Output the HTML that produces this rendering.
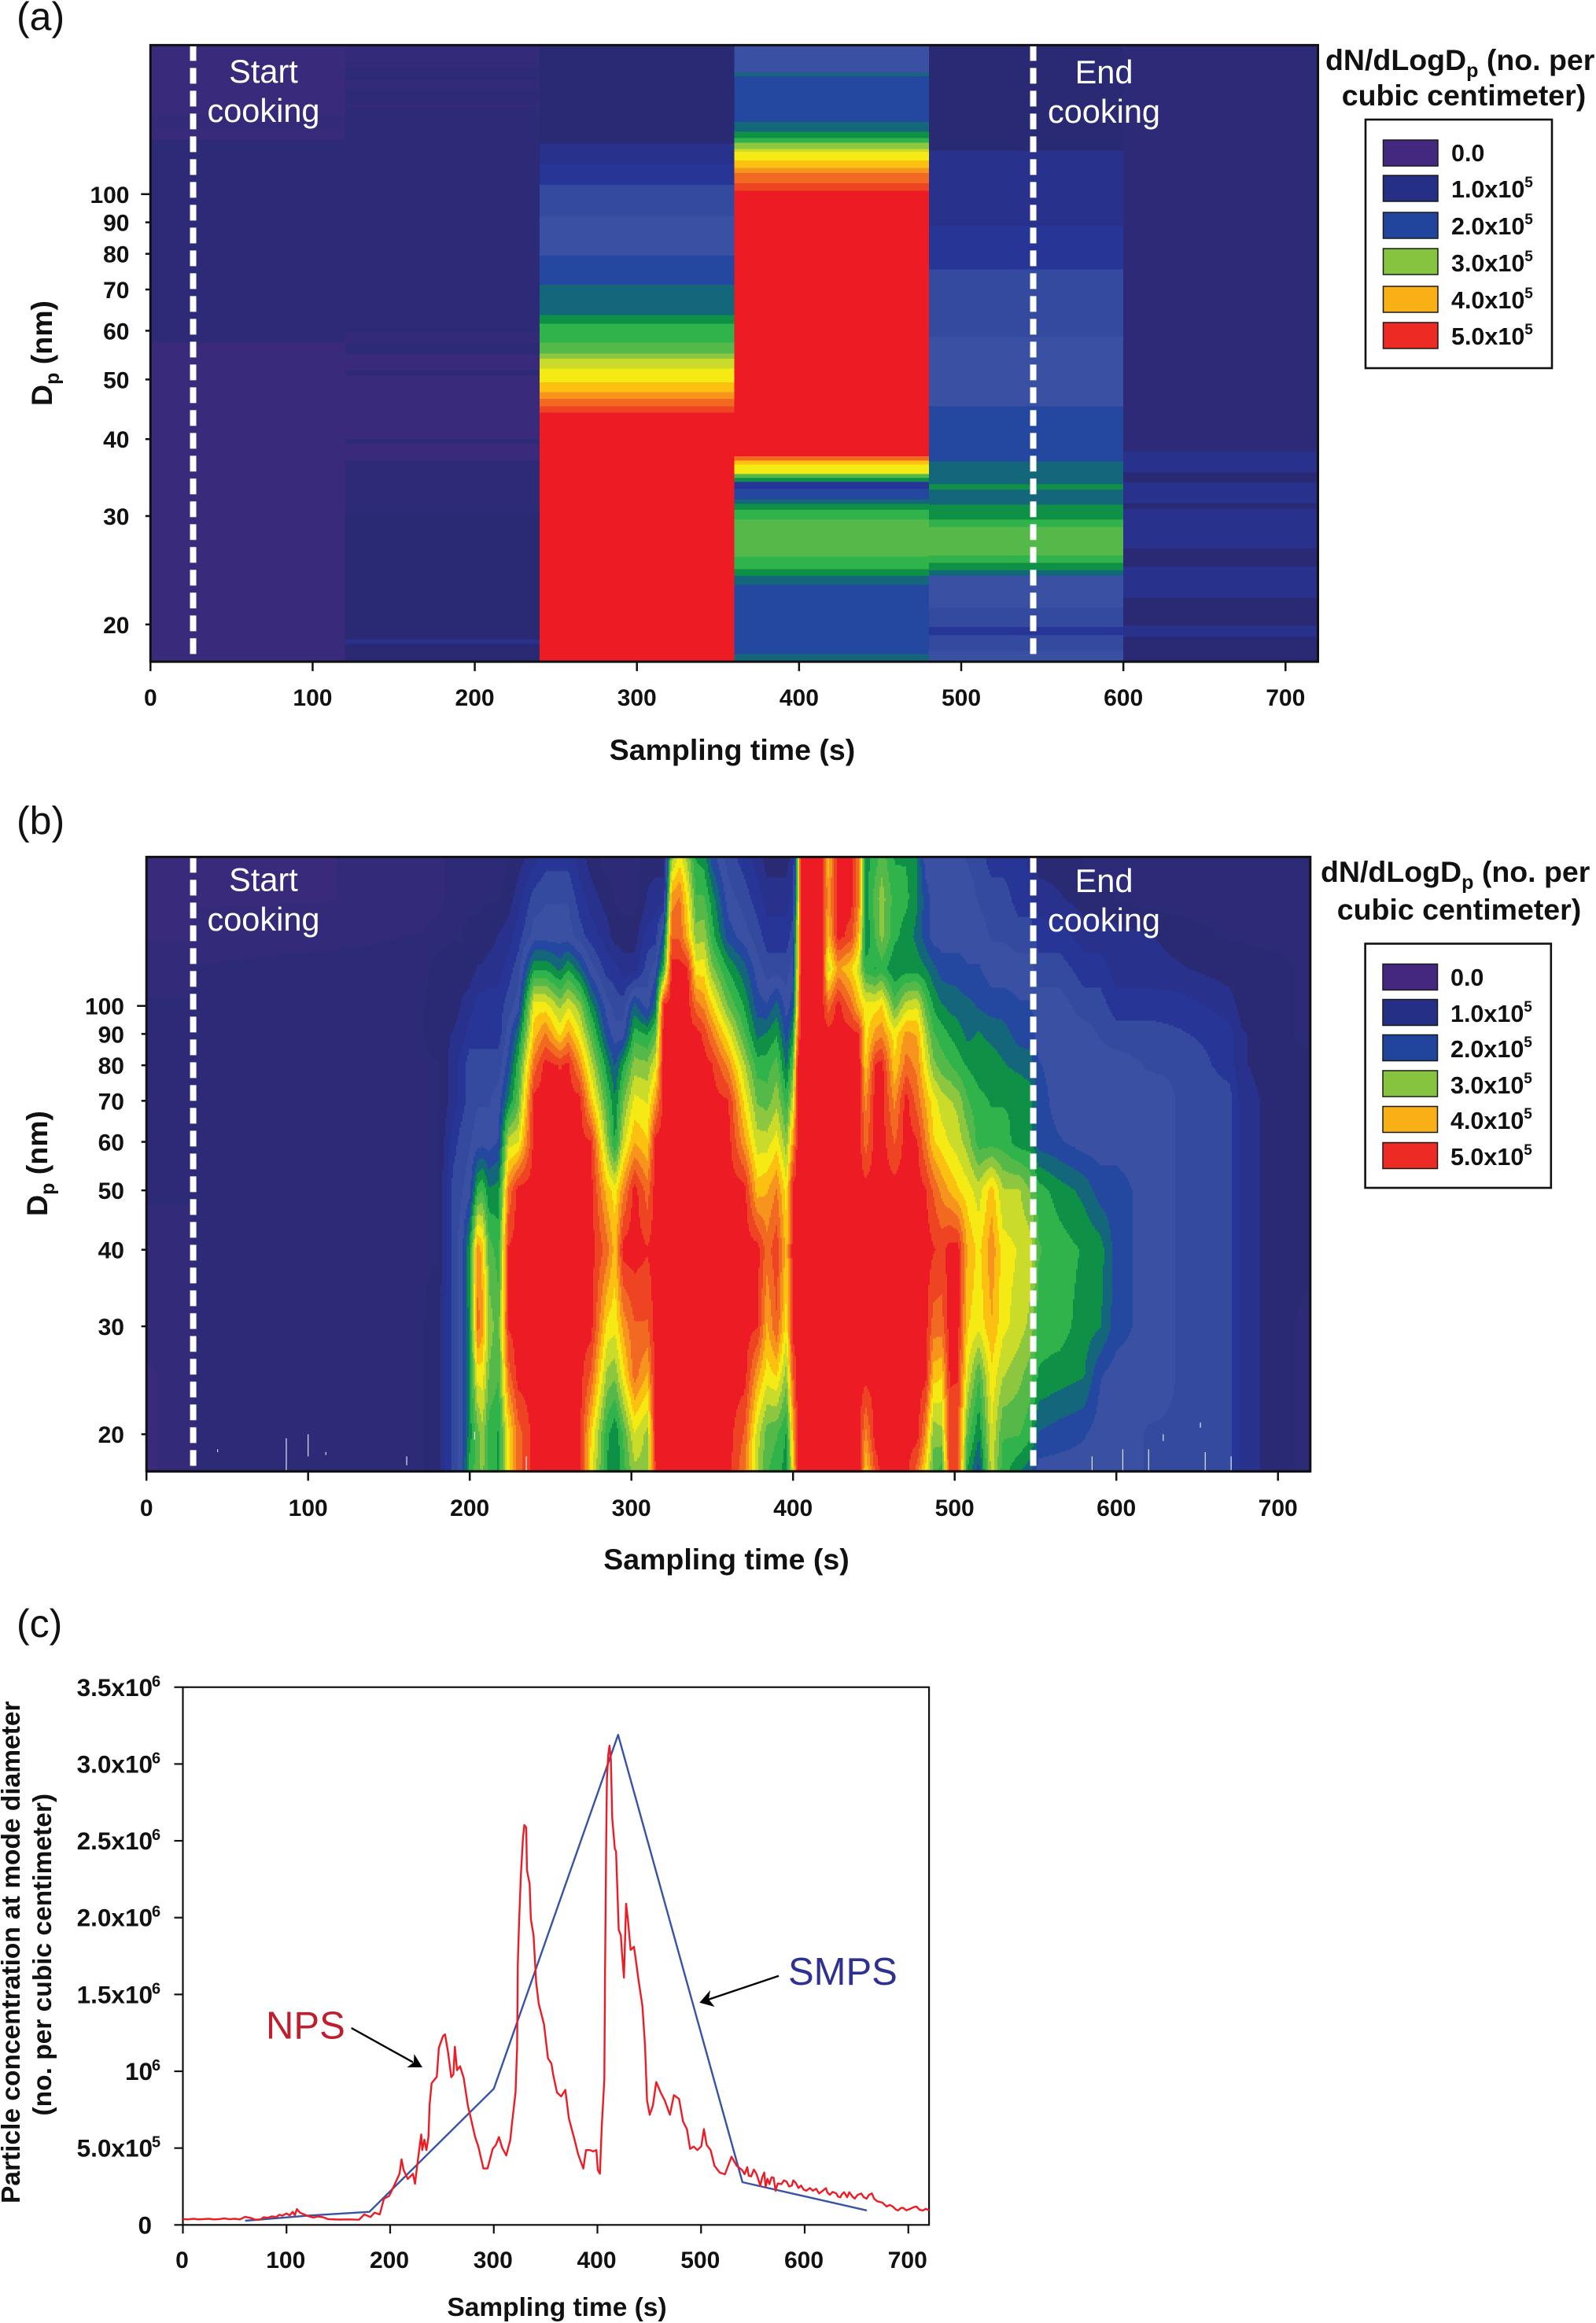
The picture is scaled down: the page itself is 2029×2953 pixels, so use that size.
<!DOCTYPE html>
<html lang="en">
<head>
<meta charset="utf-8">
<title>Particle size distribution during cooking</title>
<style>
html,body{margin:0;padding:0;background:#fff;}
body{width:2029px;height:2953px;overflow:hidden;}
svg{display:block;}
text{font-family:"Liberation Sans",Arial,sans-serif;fill:#111;}
.b{font-weight:bold;}
.cook{fill:#fff;font-size:41.5px;text-anchor:middle;}
.panel{font-size:50px;}
.axis-title{font-size:37.5px;font-weight:bold;}
.leg-title{font-size:37.5px;font-weight:bold;}
.leg{font-size:30.5px;font-weight:bold;}
.frame{fill:none;stroke:#111;stroke-width:3;}
.legbox{fill:#fff;stroke:#111;stroke-width:2.6;}
.sw{stroke:#1a1a1a;stroke-width:1.5;}
.dash{stroke:#fff;stroke-width:8;stroke-dasharray:20 9;fill:none;}
</style>
</head>
<body>
<svg id="fig" xmlns="http://www.w3.org/2000/svg" width="2029" height="2953" viewBox="0 0 2029 2953">
  <!-- PANEL A -->
  <g id="a-heat" shape-rendering="crispEdges"></g>
  <line id="a-start" class="dash"/>
  <line id="a-end" class="dash"/>
  <g id="a-axes"></g>
  <text class="panel" x="21" y="38">(a)</text>
  <text class="cook" x="335" y="105">Start</text>
  <text class="cook" x="335" y="155">cooking</text>
  <text class="cook" x="1403.5" y="106">End</text>
  <text class="cook" x="1403.5" y="156">cooking</text>
  <text class="axis-title" x="931" y="966" text-anchor="middle">Sampling time (s)</text>
  <text class="axis-title" transform="translate(66,516) rotate(-90)">D<tspan font-size="25" dy="9">p</tspan><tspan dy="-9"> (nm)</tspan></text>
  <g>
    <text class="leg-title" x="1685" y="89">dN/dLogD<tspan font-size="25" dy="9">p</tspan><tspan dy="-9"> (no. per</tspan></text>
    <text class="leg-title" x="1861" y="134" text-anchor="middle">cubic centimeter)</text>
    <rect class="legbox" x="1736" y="152" width="237" height="316"/>
    <rect class="sw" x="1758.5" y="178" width="69.5" height="33" fill="#44277f"/>
    <rect class="sw" x="1758.5" y="223" width="69.5" height="33" fill="#252f85"/>
    <rect class="sw" x="1758.5" y="270" width="69.5" height="33" fill="#21449c"/>
    <rect class="sw" x="1758.5" y="316" width="69.5" height="33" fill="#86c440"/>
    <rect class="sw" x="1758.5" y="364" width="69.5" height="33" fill="#f9b016"/>
    <rect class="sw" x="1758.5" y="410" width="69.5" height="33" fill="#ee2a24"/>
    <text class="leg" x="1845" y="205">0.0</text>
    <text class="leg" x="1845" y="251">1.0x10<tspan font-size="19" dy="-13">5</tspan></text>
    <text class="leg" x="1845" y="298">2.0x10<tspan font-size="19" dy="-13">5</tspan></text>
    <text class="leg" x="1845" y="345">3.0x10<tspan font-size="19" dy="-13">5</tspan></text>
    <text class="leg" x="1845" y="392">4.0x10<tspan font-size="19" dy="-13">5</tspan></text>
    <text class="leg" x="1845" y="438">5.0x10<tspan font-size="19" dy="-13">5</tspan></text>
  </g>

  <!-- PANEL B -->
  <g id="b-heat" shape-rendering="crispEdges"></g>
  <g id="b-specks"></g>
  <line id="b-start" class="dash"/>
  <line id="b-end" class="dash"/>
  <g id="b-axes"></g>
  <text class="panel" x="21" y="1060.6">(b)</text>
  <text class="cook" x="335" y="1132.6">Start</text>
  <text class="cook" x="335" y="1183">cooking</text>
  <text class="cook" x="1403.5" y="1134">End</text>
  <text class="cook" x="1403.5" y="1184">cooking</text>
  <text class="axis-title" x="923.5" y="1995" text-anchor="middle">Sampling time (s)</text>
  <text class="axis-title" transform="translate(60,1546) rotate(-90)">D<tspan font-size="25" dy="9">p</tspan><tspan dy="-9"> (nm)</tspan></text>
  <g>
    <text class="leg-title" x="1679" y="1121">dN/dLogD<tspan font-size="25" dy="9">p</tspan><tspan dy="-9"> (no. per</tspan></text>
    <text class="leg-title" x="1855" y="1169" text-anchor="middle">cubic centimeter)</text>
    <rect class="legbox" x="1735.6" y="1199.6" width="236.2" height="310.4"/>
    <rect class="sw" x="1758" y="1225.5" width="69.5" height="33" fill="#44277f"/>
    <rect class="sw" x="1758" y="1270.5" width="69.5" height="33" fill="#252f85"/>
    <rect class="sw" x="1758" y="1315.5" width="69.5" height="33" fill="#21449c"/>
    <rect class="sw" x="1758" y="1361" width="69.5" height="33" fill="#86c440"/>
    <rect class="sw" x="1758" y="1406.5" width="69.5" height="33" fill="#f9b016"/>
    <rect class="sw" x="1758" y="1452.5" width="69.5" height="33" fill="#ee2a24"/>
    <text class="leg" x="1844" y="1253">0.0</text>
    <text class="leg" x="1844" y="1299">1.0x10<tspan font-size="19" dy="-13">5</tspan></text>
    <text class="leg" x="1844" y="1344">2.0x10<tspan font-size="19" dy="-13">5</tspan></text>
    <text class="leg" x="1844" y="1390">3.0x10<tspan font-size="19" dy="-13">5</tspan></text>
    <text class="leg" x="1844" y="1435">4.0x10<tspan font-size="19" dy="-13">5</tspan></text>
    <text class="leg" x="1844" y="1481">5.0x10<tspan font-size="19" dy="-13">5</tspan></text>
  </g>

  <!-- PANEL C -->
  <text class="panel" x="21" y="2081">(c)</text>
  <g id="c-axes"></g>
  <polyline id="c-smps" fill="none" stroke="#3953a4" stroke-width="2.4" stroke-linejoin="round"/>
  <polyline id="c-nps" fill="none" stroke="#ed1c24" stroke-width="2.4" stroke-linejoin="round"/>
  <text x="338" y="2591.7" font-size="49" style="fill:#be1e2d">NPS</text>
  <text x="1002" y="2523" font-size="49" style="fill:#2e3192">SMPS</text>
  <g>
    <line x1="446.7" y1="2578" x2="525" y2="2621.5" stroke="#000" stroke-width="2.4"/>
    <polygon points="537,2628 517.5,2628 526,2621.5 526.5,2611" fill="#000"/>
  </g>
  <g>
    <line x1="990" y1="2511.7" x2="900" y2="2542" stroke="#000" stroke-width="2.4"/>
    <polygon points="889.3,2545.7 903,2530 901,2541.5 908.5,2551" fill="#000"/>
  </g>
  <text x="708" y="2944" font-size="33.5" class="b" text-anchor="middle">Sampling time (s)</text>
  <text class="b" font-size="33.5" transform="translate(25,2801) rotate(-90)">Particle concentration at mode diameter</text>
  <text class="b" font-size="33.5" transform="translate(65,2689.5) rotate(-90)">(no. per cubic centimeter)</text>
</svg>

<script>
// ---------- shared colour scale: one colour per 0.25x10^5 level ----------
const levelColors = ["#3a2a7b","#332a7a","#2d2a78","#2a2a74","#28318b","#273696","#344a9f","#3a50a2","#24479f","#14667a","#0e9147","#2fb34a","#54b948","#8dc63f","#cbdb2a","#f5ea14","#fcc010","#f7941d","#f26a21","#ef4423","#ed1c24"];

// ---------- panel (a): SMPS scans, one column per 120 s scan ----------
const smpsScanStarts = [0,120,240,360,480,600,720];
const scan1Edges = [174.6,134.8,127.4,122.7,57.4,17.4];
const scan1Values = [0.1,0.25,0.1,0.5,0.1];
const scan2Edges = [174.6,160.5,153.1,148.0,140.7,138.1,59.7,57.4,54.9,51.8,50.8,40.0,39.3,36.9,30.5,18.9,18.6,17.4];
const scan2Values = [0.25,0.5,0.25,0.5,0.25,0.5,0.25,0.5,0.1,0.5,0.1,0.5,0.1,0.5,0.75,1,0.75];
const scan3Edges = [174.6,120.6,111.7,103.6,92.2,79.4,71.2,63.6,61.6,57.4,55.1,54.0,52.1,49.5,48.6,47.7,46.5,45.2,44.2,17.4];
const scan3Values = [0.75,1,1.25,1.5,1.75,2,2.25,2.5,2.75,3,3.25,3.5,3.75,4,4,4.25,4.5,4.75,5];
const scan4Edges = [174.6,157.5,155.4,131.0,126.2,123.4,121.1,118.4,117.1,113.4,110.3,108.2,104.2,101.3,37.5,36.9,36.4,35.1,34.6,34.1,33.2,31.9,31.4,30.7,29.6,25.8,24.6,24.0,23.2,17.9,17.4];
const scan4Values = [1.75,2.25,2,2.25,2.5,2.75,3.25,3.5,3.75,4,4.25,4.5,4.75,5,4.5,4,3.75,3,2.5,1.25,2,2.25,2.5,2.75,3,2.75,2.5,2.25,2,2.25];
const scan5Edges = [174.6,117.7,88.9,75.5,58.6,45.2,36.8,33.8,33.1,31.3,29.6,28.8,25.9,25.2,24.5,24.0,21.3,19.8,19.2,18.1,17.4];
const scan5Values = [0.75,1,1.25,1.5,1.75,2,2.25,2.5,2.25,2.5,2.75,3,2.75,2.5,2.25,1.75,1.5,1.25,1.5,1.75];
const scan6Edges = [174.6,38.2,35.3,34.0,31.5,30.8,26.6,24.8,22.1,19.9,19.1,17.4];
const scan6Values = [0.5,1,0.75,1,0.75,1,0.75,1,0.75,1,0.75];
const scanEdges = [scan1Edges,scan2Edges,scan3Edges,scan4Edges,scan5Edges,scan6Edges];
const scanValues = [scan1Values,scan2Values,scan3Values,scan4Values,scan5Values,scan6Values];

// ---------- shared axis data ----------
const timeTicks = [0,100,200,300,400,500,600,700];
const dpTicks = [100,90,80,70,60,50,40,30,20];
const cookingStartA = 26.3;
const cookingEndA = 544.4;
const cookingStartB = 28.9;
const cookingEndB = 548.6;

// ---------- panel (b): NPS contour grid, values in 10^5 per cm3 ----------
const npsDiameters = [175,150,130,115,100,90,80,70,60,50,40,30,25,20,17.4];
const npsTimes = [0,28,32,100,170,180,190,195,200,205,208,212,218,224,230,240,247,256,261,268,275,285,290,295,302,310,315,320,325,330,335,340,345,350,360,370,378,384,390,396,400,403,405,418,422,428,436,441,445,451,455,463,470,477,482,487,492,497,502,508,515,523,530,540,547,552,565,580,590,600,620,640,670,678,700,720];
const npsGrid = [
[.1,.1,.1,.3,.4,.4,.4,.4,.4,.4,.3,.2,.1,.1,.1],
[.1,.1,.1,.3,.4,.4,.4,.4,.4,.4,.3,.25,.2,.2,.2],
[.1,.1,.2,.4,.5,.5,.5,.5,.5,.5,.5,.5,.5,.5,.5],
[.1,.1,.25,.5,.5,.5,.5,.5,.5,.5,.5,.5,.5,.5,.5],
[.2,.2,.4,.5,.6,.6,.6,.6,.6,.6,.6,.6,.6,.6,.6],
[.25,.25,.5,.75,.75,.75,.6,.6,.6,.6,.6,.75,.75,.75,.75],
[.5,.5,.6,.75,.75,.9,1,1,1.25,1.5,1.5,1.5,1.5,1.5,1.5],
[.5,.5,.6,.75,.9,1,1.25,1.25,1.5,1.6,1.75,1.75,1.75,1.75,1.75],
[.5,.5,.75,.75,1,1.25,1.5,1.5,1.6,1.75,2.6,2.5,2.5,2.5,2.75],
[.5,.5,.75,.9,1.25,1.25,1.5,1.6,1.75,2.75,4.3,4.5,3.75,3,3],
[.5,.6,.75,.9,1.25,1.25,1.5,1.6,1.75,2.9,4,4.2,3.75,3.3,3.2],
[.5,.6,.75,1,1.25,1.25,1.5,1.6,1.75,2.4,3,3.25,3.1,2.75,2.75],
[.5,.6,.9,1,1.25,1.25,1.5,1.75,1.9,2.5,2.75,3,2.9,2.6,2.6],
[.6,.75,1,1.25,1.5,1.75,2,2.4,3.5,4.4,4.9,4.9,4.5,3.75,3.75],
[.75,1,1.25,1.5,1.75,2.3,2.75,3,3.6,5,5,5,5,4.5,4.5],
[1,1.5,1.75,2.6,3.75,4,4.5,5,5,5,5,5,5,5,5],
[1.25,1.6,1.75,2.6,3.75,4.4,5,5,5,5,5,5,5,5,5],
[1.25,1.6,1.75,2.3,3.3,3.8,4.85,5,5,5,5,5,5,5,5],
[1.25,1.6,1.75,2.6,3.6,4.2,4.95,5,5,5,5,5,5,5,5],
[1,1.25,1.5,2.25,3.25,3.7,4.3,5,5,5,5,5,5,5,5],
[.75,1,1.25,1.75,2.5,3,3.5,4,4.9,5,5,5,4.6,3.9,3.8],
[.5,.75,1,1.25,1.75,2,2.5,2.9,3.25,4,4.5,3.8,3.3,2.7,2.6],
[.5,.6,.75,1.25,1.5,1.75,2.1,2.4,2.6,3.75,4,3.7,3.2,2.4,2.4],
[.5,.5,.75,1,1.5,1.75,2.6,3.1,3.5,4.3,5,4.2,3.75,2.9,2.75],
[.5,.5,.75,1,2.2,2.75,3.25,3.7,4.1,5,5,4.6,4.5,3.6,3.3],
[.75,.9,1.25,1.5,1.75,2.6,3.2,3.6,3.9,4.5,4.9,4.6,4.1,3.3,3.3],
[.75,1,1.25,1.75,2.3,3,3.6,4.2,5,5,5,5,5,5,4.9],
[.75,1,2.1,2.75,5,5,5,5,5,5,5,5,5,5,5],
[3.25,4.25,4.6,5,5,5,5,5,5,5,5,5,5,5,5],
[3.75,4.4,4.6,5,5,5,5,5,5,5,5,5,5,5,5],
[3.25,3.75,4,4.9,5,5,5,5,5,5,5,5,5,5,5],
[2.6,2.9,3.25,3.75,4.5,5,5,5,5,5,5,5,5,5,5],
[2.5,2.9,3.3,3.75,4.3,4.8,5,5,5,5,5,5,5,5,5],
[2,2.5,2.75,3.2,3.9,4.4,4.9,5,5,5,5,5,5,5,5],
[1.5,1.75,2,2.6,3.1,3.7,4.3,4.9,5,5,5,5,5,5,5],
[1.25,1.5,1.75,2.2,2.6,2.9,3.4,3.8,4.2,5,5,5,5,4.6,4.4],
[1,1.25,1.5,1.75,2,2.3,2.75,3.1,3.5,4,5,4.9,4.2,3.5,3.4],
[.75,1,1.25,1.5,1.9,2.4,2.75,3,3.5,4.1,4.5,4.1,3.75,3,2.9],
[.75,1,1.25,1.5,2.25,2.6,3,3.3,3.75,4.4,4.8,4.6,3.9,2.9,2.75],
[.75,1,1.25,1.5,1.75,2,2.3,2.75,3.2,3.75,4,3.75,3.25,2.6,2.5],
[1,1.25,1.5,1.75,2,2.5,3,3.5,4.2,5,5,5,4.6,4,3.75],
[3,3.2,3.75,3.75,4,4.5,5,5,5,5,5,5,5,5,5],
[5,5,5,5,5,5,5,5,5,5,5,5,5,5,5],
[5,5,5,5,5,5,5,5,5,5,5,5,5,5,5],
[4,4.2,4,3.5,4.5,5,5,5,5,5,5,5,5,5,5],
[5,5,5,4.2,5,5,5,5,5,5,5,5,5,5,5],
[5,5,4.75,3.9,4.5,5,5,5,5,5,5,5,5,5,5],
[4.4,4.4,4,3.5,4,4.9,5,5,5,5,5,5,5,5,5],
[2.5,2.5,2.4,2.75,3.75,3.75,3.9,4.3,4.5,5,5,5,5,4.3,3.9],
[2.75,3,2.9,2.6,3.75,4.2,4.9,5,5,5,5,5,5,5,4.7],
[3,3.25,3.2,2.75,3.9,4.3,5,5,5,5,5,5,5,5,5],
[2.6,2.75,2.7,2.4,3,3.75,3.9,4.3,4.6,5,5,5,5,5,5],
[2.6,2.7,2.5,2.5,3.5,4.2,4.5,5,5,5,5,5,5,5,5],
[2.4,2.4,2.3,2.5,3.6,4.1,4.3,4.5,4.9,5,5,5,5,5,4.5],
[1.75,2,2,2.4,3,3.4,3.7,4.1,4.4,4.9,5,5,5,4.3,3.8],
[1.75,1.75,1.75,2.2,2.6,2.9,3.2,3.75,3.9,4.6,4.9,4.5,4,3.2,3],
[1.75,1.75,1.75,2,2.4,2.75,3,3.5,3.75,4.3,4.8,4.5,3.9,3.3,2.75],
[1.75,1.75,1.75,2,2.3,2.6,2.9,3.4,3.6,4.1,5,5,4.9,4.8,4.8],
[1.75,1.75,1.75,2,2.25,2.5,2.75,3.3,3.5,3.9,5,5,4.9,4.7,4.8],
[1.6,1.75,1.75,1.9,2.2,2.3,2.6,2.9,3.25,3.75,4.1,3.9,3.6,3,2.6],
[1.5,1.6,1.75,1.9,2.1,2.4,2.5,2.7,2.75,3.5,3.8,3.7,2.9,2.4,2],
[1.25,1.5,1.6,1.75,2,2.3,2.5,2.6,2.75,4,4.3,4.1,3.8,3.6,3.5],
[1.25,1.5,1.6,1.75,2,2.25,2.4,2.6,2.75,3.4,3.75,3.7,3.4,2.9,2.75],
[1.25,1.25,1.5,1.75,1.9,2,2.3,2.6,2.5,3.4,3.6,3.5,3.2,2.9,2.4],
[1,1.25,1.5,1.75,1.9,2,2.25,2.5,2.5,3.1,3.5,3.3,3,2.7,2.2],
[.75,1,1.25,1.5,1.75,1.75,1.9,2,2,2.75,2.9,2.75,2.6,2.1,1.75],
[.75,.9,1.25,1.5,1.75,1.75,1.75,1.75,1.9,2.5,2.75,2.75,2.5,2,1.75],
[.6,.75,1,1.25,1.5,1.75,1.75,1.75,1.75,2.3,2.6,2.5,2.4,1.9,1.75],
[.5,.75,1,1.25,1.5,1.6,1.75,1.75,1.75,2,2.5,2.4,1.9,1.75,1.75],
[.5,.6,1,1,1.25,1.5,1.75,1.75,1.75,2,2,2,1.75,1.75,1.75],
[.5,.5,.9,1,1.25,1.5,1.6,1.75,1.75,1.75,1.75,1.75,1.75,1.6,1.6],
[.5,.5,.75,.9,1.25,1.4,1.6,1.6,1.6,1.6,1.6,1.6,1.6,1.6,1.6],
[.5,.5,.6,.75,1,1.25,1.25,1.5,1.5,1.5,1.5,1.5,1.5,1.5,1.5],
[.5,.5,.6,.75,.75,.9,.9,1,1,1,1,1,1,1,1],
[.5,.5,.5,.75,.75,.75,.75,.75,.75,.75,.75,.75,.75,.75,.75],
[.5,.5,.5,.5,.5,.5,.75,.75,.75,.75,.75,.5,.5,.5,.5]
];
const speckTimes = [44,86.5,100,111,161,203,235,585,604,620,629,652,671,655];
const speckDpHigh = [18.9,19.7,20,18.7,18.4,20.2,18.4,18.4,18.9,18.9,20,20.9,18.4,18.7];
const speckDpLow = [18.7,17.4,18.4,18.5,17.8,19.6,17.4,17.4,17.4,17.4,19.5,20.5,17.4,17.4];

// ---------- panel (c): mode concentration series, values in 10^5 per cm3 ----------
const smpsTimes = [60,120,180,300,420,540,660];
const smpsConc = [0.27,0.6,0.85,8.87,31.9,2.78,0.94];
const npsLineTimes = [0,5,10,15,20,25,30,35,40,45,50,55,60,65,70,75,78,82,86,90,93,96,100,103,106,108,110,113,118,122,126,130,135,140,150,160,170,175,181,185,190,194,199,205,209,211,213,217,222,224,226,230,231,233,235,237,238,240,245,247,251,253,256,259,261,262.5,264.5,267.5,271,275,278,282,285,290,294,299,302,305,308,312,316,317.5,321,322.5,323.2,324.4,326.2,328.2,329.5,331.3,332,334.6,335.8,338.4,340.9,343.4,348.5,352.3,355.6,357.3,361,365,369,372.5,377.6,381.4,386.4,389,392.8,396,399,400.4,402.4,404.2,406.7,407.4,408.4,409.2,410.5,411.7,413,414.3,416.8,418,419.3,420.6,422.6,423.6,425.6,427.7,429.4,432,435.3,437,439.6,443.4,445.9,447.9,450.5,453.5,456.8,461,465,470,473.8,478.8,482.6,486.4,489.4,493,496.5,500.3,502.8,505.4,509.2,513,518,523,529.4,534.5,539.5,542,544.6,546,548.4,551,553.4,557.2,559,561,562.3,564,566,568,570,571.9,574,577.5,580,582.5,585,587.6,589,591.4,594,596.5,599,601.5,605,608,611,614,617,620.5,622,624.3,627,630.6,632,634.4,636,638,641,643,646,648.3,651,654.6,657,659.7,662,664.8,667,670,675,679,682,685,688,690,693,695,698,701.4,705,707.8,711,714,717,720];
const npsLineConc = [.38,.36,.40,.36,.38,.40,.36,.38,.42,.37,.40,.36,.52,.46,.34,.36,.50,.46,.56,.50,.66,.60,.75,.62,.85,.62,1.03,.80,.65,.55,.48,.55,.50,.38,.35,.36,.34,.68,.51,.80,.68,1.71,1.88,2.73,3.33,4.27,3.58,2.99,3.33,2.68,3.84,5.89,4.87,5.55,4.87,5.72,7.77,9.22,9.64,11.52,12.29,12.4,11.18,9.61,9.8,11.6,10.07,10.33,9.56,7.77,6.9,5.72,5.12,3.67,3.67,4.95,5.2,5.72,5.04,4.52,5.55,6.57,8.62,11.52,16.98,19.7,22.87,25.2,26.03,25.86,23.1,22.2,19.9,18.85,15.8,14.4,13.05,10.84,10.5,9.8,8.62,8.36,8.79,6.91,5.63,4.6,3.67,4.87,4.87,4.78,4.87,3.58,3.33,6.4,9.47,16.47,24.66,29.1,30.6,31.2,30.3,26.5,24.5,24.3,21.76,19.2,18.86,17.8,16.1,20.9,19.9,17.9,18.1,17.3,15.96,14.25,11.69,8.1,7.17,7.77,9.3,8.62,8.1,7.17,8.45,8.2,6.74,6.23,4.95,5.1,4.87,5.12,6.23,5.2,4.87,3.84,3.41,3.29,4.44,3.84,3.58,3.3,3.76,3.2,3.16,3.6,3.33,2.56,3.1,3.41,2.47,3.0,2.65,3.1,3.07,2.22,2.7,2.65,2.9,2.82,2.5,2.56,2.9,2.73,2.4,2.56,2.3,2.22,2.4,2.22,2.35,2.05,2.2,2.39,2.1,1.96,2.15,2.05,1.85,1.79,2.0,2.13,1.8,2.13,1.85,1.71,1.95,2.05,1.8,1.71,1.95,2.05,1.7,1.54,1.45,1.2,1.3,1.2,1.0,.94,1.1,1.11,.95,1.03,1.15,1.2,.98,.94,1.05,.94];
const concTickValues = [0,5,10,15,20,25,30,35];
const concTickBases = ["0","5.0x10","10","1.5x10","2.0x10","2.5x10","3.0x10","3.5x10"];
const concTickExps = ["","5","6","6","6","6","6","6"];

// ---------- axis functions ----------
const xA = t => 191.3 + 2.0614 * t;
const yA = d => 246.8 - 782.6 * Math.log10(d / 100);
const xB = t => 186.2 + 2.055 * t;
const yB = d => 1278.7 - 779 * Math.log10(d / 100);
const xC = t => 232.5 + 1.3175 * t;
const yC = v => 2828.3 - 19.53 * v;
const tFromXB = px => (px - 186.2) / 2.055;
const dFromYB = py => 100 * Math.pow(10, (1278.7 - py) / 779);
const colorOf = v => levelColors[Math.max(0, Math.min(20, Math.round(v / 0.25)))];

const NS = "http://www.w3.org/2000/svg";
function add(parent, tag, attrs, text) {
  const el = document.createElementNS(NS, tag);
  for (const k in attrs) el.setAttribute(k, attrs[k]);
  if (text !== undefined) el.textContent = text;
  parent.appendChild(el);
  return el;
}

// ---------- draw panel (a) heatmap ----------
const aHeat = document.getElementById("a-heat");
scanEdges.forEach((edges, c) => {
  scanValues[c].forEach((v, j) => {
    const x0 = xA(smpsScanStarts[c]), x1 = xA(smpsScanStarts[c + 1]);
    const y0 = yA(edges[j]), y1 = yA(edges[j + 1]);
    const r = add(aHeat, "rect", {x: x0, y: y0, width: x1 - x0 + 0.5, height: y1 - y0 + 0.5, fill: colorOf(v)});
    
    
  });
});

// ---------- draw panel (b) heatmap: bilinear in time / log-diameter, run-merged ----------
const bHeat = document.getElementById("b-heat");
(function () {
  const STEP = 2;
  const left = xB(0), right = xB(720), top = yB(175), bottom = yB(17.4);
  const logD = npsDiameters.map(d => Math.log10(d));
  for (let py = top; py < bottom; py += STEP) {
    const ld = Math.log10(Math.min(175, Math.max(17.4, dFromYB(py + STEP / 2))));
    let r = 0;
    while (r < logD.length - 2 && ld < logD[r + 1]) r++;
    const fr = (logD[r] - ld) / (logD[r] - logD[r + 1]);
    let c = 0, runStart = left, runColor = null;
    for (let px = left; px < right; px += STEP) {
      const t = Math.min(720, Math.max(0, tFromXB(px + STEP / 2)));
      while (c < npsTimes.length - 2 && t > npsTimes[c + 1]) c++;
      const ft = (t - npsTimes[c]) / (npsTimes[c + 1] - npsTimes[c]);
      const a = npsGrid[c][r] * (1 - fr) + npsGrid[c][r + 1] * fr;
      const b = npsGrid[c + 1][r] * (1 - fr) + npsGrid[c + 1][r + 1] * fr;
      const col = colorOf(a * (1 - ft) + b * ft);
      if (col !== runColor) {
        if (runColor !== null) {
          const cell = add(bHeat, "rect", {x: runStart, y: py, width: px - runStart, height: STEP + 0.5, fill: runColor});
          
          
        }
        runStart = px;
        runColor = col;
      }
    }
    const last = add(bHeat, "rect", {x: runStart, y: py, width: right - runStart, height: STEP + 0.5, fill: runColor});
    
    
  }
})();
const bSpecks = document.getElementById("b-specks");
speckTimes.forEach((t, i) => {
  const s = add(bSpecks, "line", {x1: xB(t), x2: xB(t), y1: yB(speckDpHigh[i]), y2: yB(speckDpLow[i]), stroke: "#dfe6f2", "stroke-width": 1.2});
  
  
});

// ---------- dashed cooking markers ----------
function vline(id, x, y0, y1) {
  const l = document.getElementById(id);
  l.setAttribute("x1", x); l.setAttribute("x2", x);
  l.setAttribute("y1", y0); l.setAttribute("y2", y1);
}
vline("a-start", xA(cookingStartA), yA(174.6), yA(17.4));
vline("a-end", xA(cookingEndA), yA(174.6), yA(17.4));
vline("b-start", xB(cookingStartB), yB(175), yB(17.4));
vline("b-end", xB(cookingEndB), yB(175), yB(17.4));

// ---------- heatmap axes ----------
function heatAxes(g, xf, yf, dTop, dBot, labelRight, xLabelY) {
  const L = xf(0), R = xf(720), T = yf(dTop), B = yf(dBot);
  const frame = add(g, "rect", {x: L, y: T, width: R - L, height: B - T, class: "frame"});
  
  
  timeTicks.forEach(t => {
    const tk = add(g, "line", {x1: xf(t), x2: xf(t), y1: B, y2: B + 12, stroke: "#111", "stroke-width": 2.5});
    
    
    const lb = add(g, "text", {x: xf(t), y: xLabelY, "text-anchor": "middle", "font-size": 30, "font-weight": "bold"}, String(t));
    
    
  });
  dpTicks.forEach(d => {
    const len = d === 100 ? 12 : 6.5;
    const tk = add(g, "line", {x1: L - len, x2: L, y1: yf(d), y2: yf(d), stroke: "#111", "stroke-width": 2.5});
    
    
    const lb = add(g, "text", {x: labelRight, y: yf(d) + 11, "text-anchor": "end", "font-size": 30, "font-weight": "bold"}, String(d));
    
    
  });
}
heatAxes(document.getElementById("a-axes"), xA, yA, 174.6, 17.4, 164.5, 897);
heatAxes(document.getElementById("b-axes"), xB, yB, 175, 17.4, 158, 1927);

// ---------- panel (c) ----------
const cAxes = document.getElementById("c-axes");
(function () {
  const L = xC(0), R = xC(720), T = yC(35), B = yC(0);
  const frame = add(cAxes, "rect", {x: L, y: T, width: R - L, height: B - T, fill: "none", stroke: "#111", "stroke-width": 2.2});
  
  
  timeTicks.forEach(t => {
    const tk = add(cAxes, "line", {x1: xC(t), x2: xC(t), y1: B, y2: B + 11, stroke: "#111", "stroke-width": 2.2});
    
    
    const lb = add(cAxes, "text", {x: xC(t) - 1, y: 2883, "text-anchor": "middle", "font-size": 30, "font-weight": "bold"}, String(t));
    
    
  });
  concTickValues.forEach((v, i) => {
    const tk = add(cAxes, "line", {x1: L - 11, x2: L, y1: yC(v), y2: yC(v), stroke: "#111", "stroke-width": 2.2});
    
    
    const hasExp = concTickExps[i] !== "";
    const lb = add(cAxes, "text", {x: hasExp ? 194 : 193, y: yC(v) + 11, "text-anchor": "end", "font-size": 31.5, "font-weight": "bold"}, concTickBases[i]);
    
    
    if (hasExp) {
      const ex = add(cAxes, "text", {x: 193, y: yC(v) - 1, "font-size": 20, "font-weight": "bold"}, concTickExps[i]);
      
      
    }
  });
})();
document.getElementById("c-smps").setAttribute("points", smpsTimes.map((t, i) => xC(t).toFixed(1) + "," + yC(smpsConc[i]).toFixed(1)).join(" "));
document.getElementById("c-nps").setAttribute("points", npsLineTimes.map((t, i) => xC(t).toFixed(1) + "," + yC(npsLineConc[i]).toFixed(1)).join(" "));
</script>
</body>
</html>
